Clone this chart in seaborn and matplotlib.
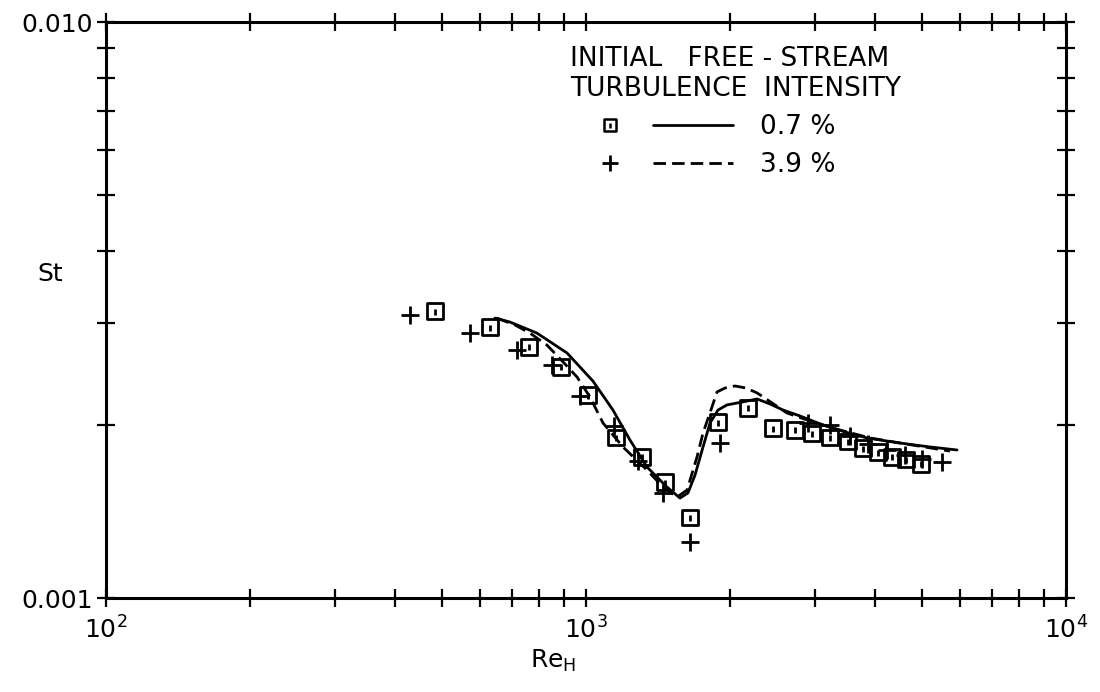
import matplotlib
matplotlib.use("Agg")
import matplotlib.pyplot as plt
from matplotlib.lines import Line2D
from matplotlib.path import Path
from matplotlib.legend_handler import HandlerTuple
import seaborn as sns

# Measured Stanton numbers, 0.7 % free-stream turbulence (squares)
re_low = [485, 631, 761, 887, 1010, 1155, 1308, 1461, 1647, 1884, 2175,
          2453, 2725, 2957, 3224, 3514, 3777, 4058, 4341, 4642, 4989]
st_low = [0.00315, 0.00295, 0.00273, 0.00252, 0.00225, 0.00190, 0.00176,
          0.00159, 0.00138, 0.00202, 0.00214, 0.00197, 0.00196, 0.00193,
          0.00190, 0.00187, 0.00182, 0.00179, 0.00176, 0.00174, 0.00171]

# Measured Stanton numbers, 3.9 % free-stream turbulence (crosses)
re_high = [430, 573, 718, 849, 972, 1144, 1283, 1447, 1647, 1902, 2901,
           3224, 3548, 3868, 4238, 4620, 5012, 5516]
st_high = [0.00310, 0.00288, 0.00270, 0.00254, 0.00224, 0.00199, 0.00173,
           0.00152, 0.00125, 0.00186, 0.00201, 0.00200, 0.00191, 0.00185,
           0.00181, 0.00177, 0.00174, 0.00172]

# Predictions, 0.7 % (solid)
re_pred_low = [646, 694, 790, 913, 1034, 1138, 1235, 1340, 1475, 1570, 1631,
               1687, 1753, 1813, 1884, 1967, 2123, 2272, 2417, 2573, 2792,
               3117, 3464, 3850, 4510, 5208, 5929]
st_pred_low = [0.003062, 0.003014, 0.002884, 0.002663, 0.002380, 0.002120,
               0.001880, 0.001688, 0.001558, 0.001491, 0.001522, 0.001635,
               0.001829, 0.002013, 0.002120, 0.002164, 0.002190, 0.002216,
               0.002172, 0.002120, 0.002070, 0.001997, 0.001942, 0.001896,
               0.001858, 0.001829, 0.001807]

# Predictions, 3.9 % (dashed)
re_pred_high = [652, 711, 764, 829, 896, 958, 1019, 1085, 1194, 1340, 1447,
                1548, 1624, 1703, 1753, 1830, 1875, 1948, 2044, 2154, 2272,
                2441, 2622, 2929, 3382, 3905, 4510, 5731]
st_pred_high = [0.003062, 0.002979, 0.002884, 0.002749, 0.002569, 0.002419,
                0.002234, 0.002013, 0.001829, 0.001668, 0.001558, 0.001497,
                0.001540, 0.001757, 0.001934, 0.002146, 0.002279, 0.002315,
                0.002334, 0.002315, 0.002270, 0.002181, 0.002095, 0.002029,
                0.001957, 0.001896, 0.001858, 0.001799]

x_major = [1e2, 1e3, 1e4]
x_major_labels = ["$10^2$", "$10^3$", "$10^4$"]
x_minor = [m * d for d in (1e2, 1e3) for m in range(2, 10)]
y_major = [0.001, 0.010]
y_major_labels = ["0.001", "0.010"]
y_minor = [m * 0.001 for m in range(2, 10)]

legend_title = "INITIAL   FREE - STREAM\nTURBULENCE  INTENSITY"
legend_labels = ["0.7 %", "3.9 %"]

sns.set_style("ticks")
plt.rcParams["font.family"] = ["DejaVu Sans"]
plt.rcParams["mathtext.default"] = "regular"
for key in ("text.color", "axes.labelcolor", "xtick.color", "ytick.color",
            "axes.edgecolor"):
    plt.rcParams[key] = "black"

FS = 18
LFS = 19

fig = plt.figure(figsize=(11, 6.92), dpi=100)
ax = fig.add_axes([106 / 1100, 1 - 598 / 692, 960 / 1100, 576 / 692])
ax.set_xscale("log")
ax.set_yscale("log")

dash = (0, (4.5, 2.2))
sns.lineplot(x=re_pred_low, y=st_pred_low, sort=False, estimator=None,
             color="black", linewidth=2, ax=ax)
sns.lineplot(x=re_pred_high, y=st_pred_high, sort=False, estimator=None,
             color="black", linewidth=2, linestyle=dash, ax=ax)

# Hollow square with a small centre stroke
box = Path([(-1, -1), (1, -1), (1, 1), (-1, 1), (-1, -1), (0, -0.45), (0, 0.3)],
           [Path.MOVETO, Path.LINETO, Path.LINETO, Path.LINETO, Path.CLOSEPOLY,
            Path.MOVETO, Path.LINETO])

sns.scatterplot(x=re_low, y=st_low, marker=box, s=130, facecolor="none",
                edgecolor="black", color="black", linewidth=2, ax=ax, zorder=3)
sns.scatterplot(x=re_high, y=st_high, marker="+", s=170, color="black",
                linewidth=2, ax=ax, zorder=3)

ax.set_xlim(1e2, 1e4)
ax.set_ylim(0.001, 0.010)
ax.set_xticks(x_major, labels=x_major_labels)
ax.set_xticks(x_minor, labels=[""] * len(x_minor), minor=True)
ax.set_yticks(y_major, labels=y_major_labels)
ax.set_yticks(y_minor, labels=[""] * len(y_minor), minor=True)

for which in ("major", "minor"):
    ax.tick_params(axis="both", which=which, direction="inout", length=13,
                   width=1.6, top=True, right=True, color="black",
                   labelsize=FS, labelcolor="black")
ax.tick_params(axis="x", which="major", pad=7)
ax.tick_params(axis="y", which="major", pad=3)
for sp in ax.spines.values():
    sp.set_linewidth(2.2)
    sp.set_color("black")

ax.set_ylabel("St", rotation=0, fontsize=FS, color="black", va="center")
ax.yaxis.set_label_coords(-0.058, 0.5625)
ax.set_xlabel("Re$_{H}$", fontsize=FS, color="black")
ax.xaxis.set_label_coords(0.466, -0.087)

h_sq = Line2D([], [], marker=box, ms=9, mfc="none", mec="black", mew=1.8,
              linestyle="none")
h_solid = Line2D([], [], color="black", linewidth=2)
h_plus = Line2D([], [], marker="+", ms=12, mec="black", mew=2,
                linestyle="none")
h_dash = Line2D([], [], color="black", linewidth=2, linestyle=dash)

leg = ax.legend(handles=[(h_sq, h_solid), (h_plus, h_dash)],
                labels=legend_labels,
                handler_map={tuple: HandlerTuple(ndivide=None, pad=0.15)},
                title=legend_title, alignment="left", frameon=False,
                loc="upper left", bbox_to_anchor=(0.483, 0.958),
                borderpad=0, borderaxespad=0, handlelength=6.2,
                handletextpad=1.0, labelspacing=0.45, fontsize=LFS,
                title_fontproperties={"size": LFS})
for t in leg.get_texts():
    t.set_color("black")
leg.get_title().set_color("black")

fig.savefig("out.png", dpi=100, facecolor="white")
